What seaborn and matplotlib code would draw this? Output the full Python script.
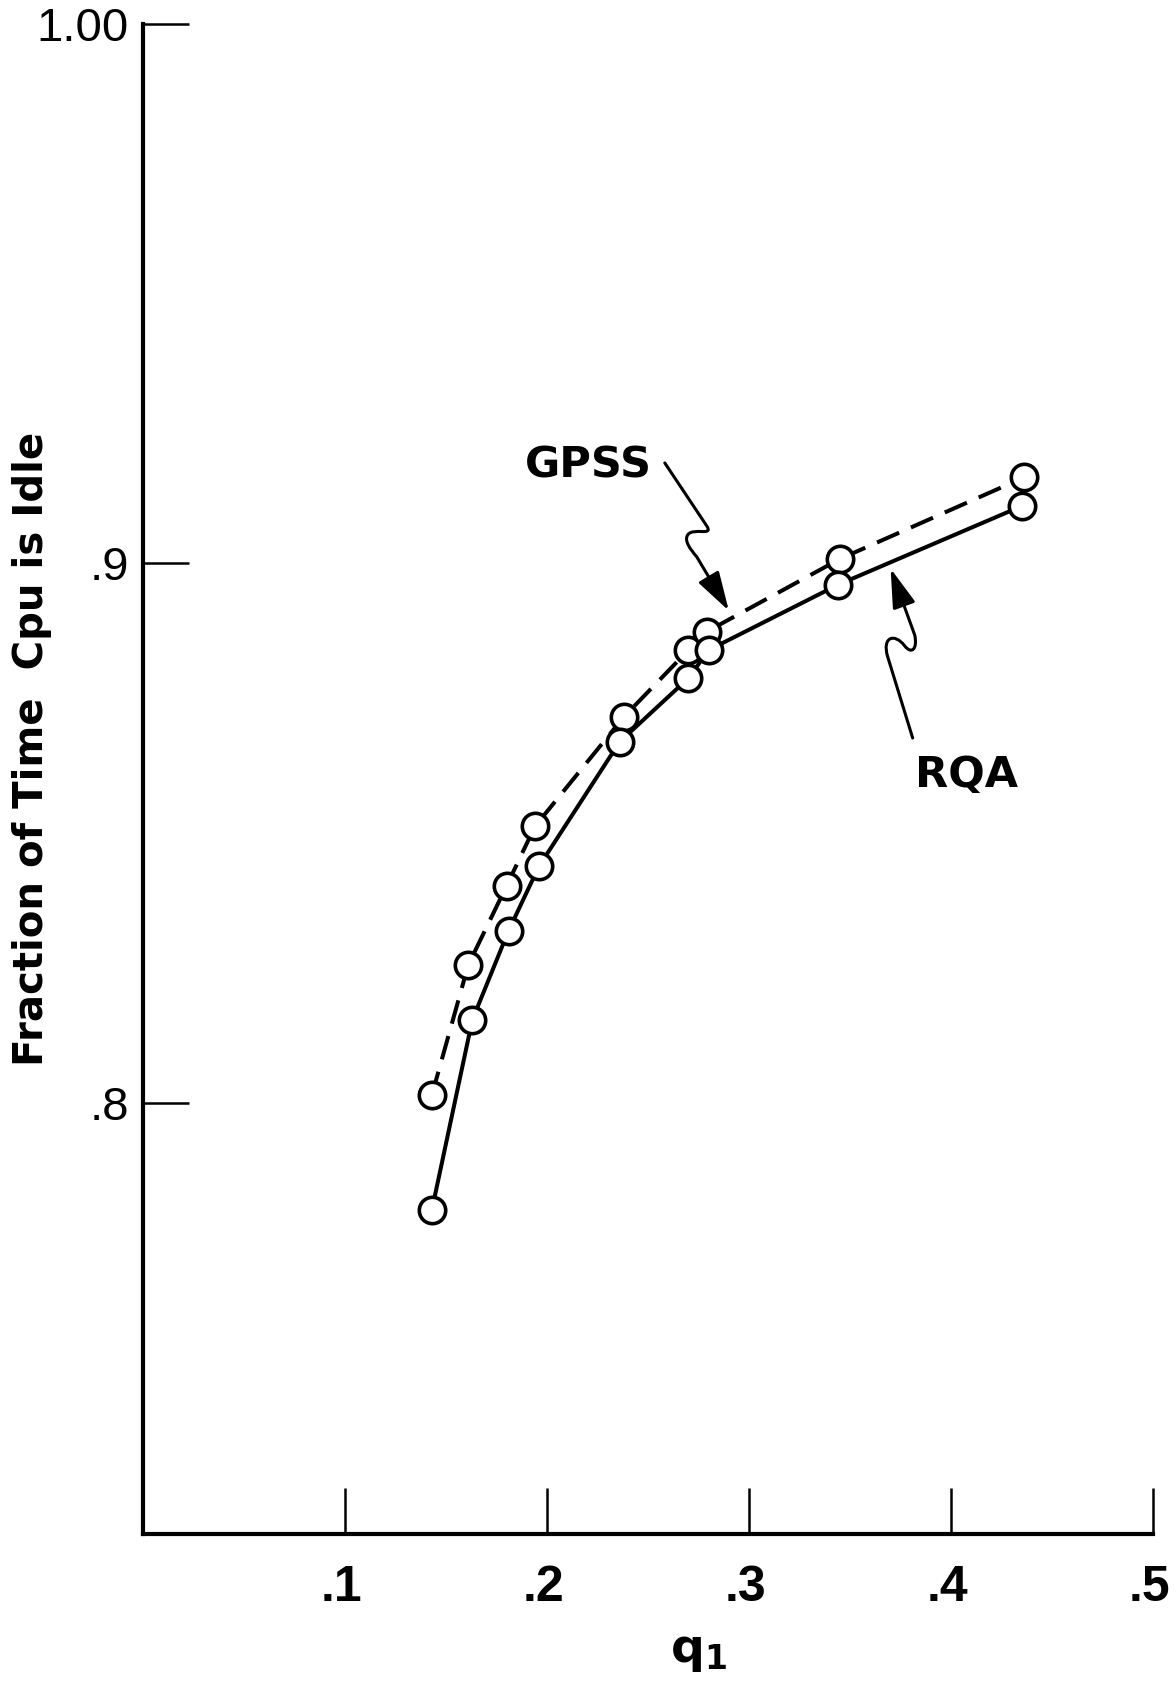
import matplotlib
matplotlib.use("Agg")
import matplotlib.pyplot as plt
import matplotlib.transforms as mtransforms
import seaborn as sns
from matplotlib.path import Path
from matplotlib.patches import FancyArrowPatch

# values
q1_gpss = [0.143, 0.161, 0.180, 0.194, 0.238, 0.270, 0.279, 0.345, 0.436]
idle_gpss = [0.8014, 0.8255, 0.8402, 0.8512, 0.8715, 0.8839, 0.8873, 0.9008, 0.9159]
q1_rqa = [0.143, 0.163, 0.181, 0.196, 0.236, 0.270, 0.280, 0.344, 0.435]
idle_rqa = [0.7801, 0.8153, 0.8319, 0.8438, 0.8669, 0.8787, 0.8839, 0.8960, 0.9106]

x_ticks = [0.1, 0.2, 0.3, 0.4, 0.5]
x_tick_labels = [".1", ".2", ".3", ".4", ".5"]
y_ticks = [0.8, 0.9, 1.0]
y_tick_labels = [".8", ".9", "1.00"]

sns.set_theme(style="white")
plt.rcParams["font.family"] = ["DejaVu Sans"]
plt.rcParams["mathtext.fontset"] = "dejavusans"

fig = plt.figure(figsize=(11.76, 16.85), dpi=100)
ax = fig.add_axes([0.1216, 0.0896, 0.8589, 0.8962])

line_kw = dict(color="black", lw=2.9, marker="o", ms=19, mfc="white",
               mec="black", mew=2.6)
sns.lineplot(x=q1_gpss, y=idle_gpss, ax=ax, sort=False,
             linestyle=(0, (6, 3.2)), **line_kw)
sns.lineplot(x=q1_rqa, y=idle_rqa, ax=ax, sort=False, **line_kw)

ax.set_xlim(0, 0.5)
ax.set_ylim(0.72, 1.0)
for s in ["top", "right"]:
    ax.spines[s].set_visible(False)
for s in ["left", "bottom"]:
    ax.spines[s].set_linewidth(3)
    ax.spines[s].set_color("black")

ax.set_xticks(x_ticks, x_tick_labels)
ax.set_yticks(y_ticks, y_tick_labels)
ax.tick_params(axis="both", which="major", bottom=True, left=True,
               direction="in", length=33, width=1.8, color="black",
               labelcolor="black")
ax.tick_params(axis="x", pad=22, labelsize=36)
ax.tick_params(axis="y", pad=10, labelsize=34)
shift = mtransforms.ScaledTranslation(-0.04, 0, fig.dpi_scale_trans)
for t in ax.get_xticklabels():
    t.set_family(["Liberation Sans", "DejaVu Sans"])
    t.set_fontweight("bold")
    t.set_transform(t.get_transform() + shift)
for t in ax.get_yticklabels():
    t.set_family(["Liberation Sans", "DejaVu Sans"])

ax.set_ylabel("Fraction of Time  Cpu is Idle", fontweight="bold",
              fontsize=29, color="black")
ax.yaxis.set_label_coords(-0.090, 0.52)
ax.set_xlabel(r"q$_\mathbf{1}$", fontweight="bold", fontsize=34, color="black")
ax.xaxis.set_label_coords(0.55, -0.063)

# labels with squiggly arrows
ax.text(0.2207, 0.9182, "GPSS", ha="center", va="center", fontsize=31,
        fontweight="bold", color="black")
ax.text(0.4077, 0.8608, "RQA", ha="center", va="center", fontsize=31,
        fontweight="bold", color="black")

codes = [Path.MOVETO, Path.LINETO,
         Path.CURVE4, Path.CURVE4, Path.CURVE4,
         Path.CURVE4, Path.CURVE4, Path.CURVE4,
         Path.LINETO]
gpss_arrow = [(0.2583, 0.9186), (0.2791, 0.9069),
              (0.2825, 0.9049), (0.2726, 0.9067), (0.2697, 0.9053),
              (0.2677, 0.9042), (0.2707, 0.9027), (0.2741, 0.9012),
              (0.2900, 0.8912)]
rqa_arrow = [(0.3810, 0.8676), (0.3686, 0.8827),
             (0.3657, 0.8864), (0.3721, 0.8871), (0.3770, 0.8847),
             (0.3805, 0.8830), (0.3835, 0.8841), (0.3820, 0.8867),
             (0.3701, 0.8990)]
for pts in [gpss_arrow, rqa_arrow]:
    arr = FancyArrowPatch(path=Path(pts, codes),
                          arrowstyle="-|>,head_length=1.0,head_width=0.3",
                          mutation_scale=24, lw=2.2, color="black",
                          joinstyle="round", capstyle="round")
    ax.add_patch(arr)

fig.savefig("out.png", dpi=100)
